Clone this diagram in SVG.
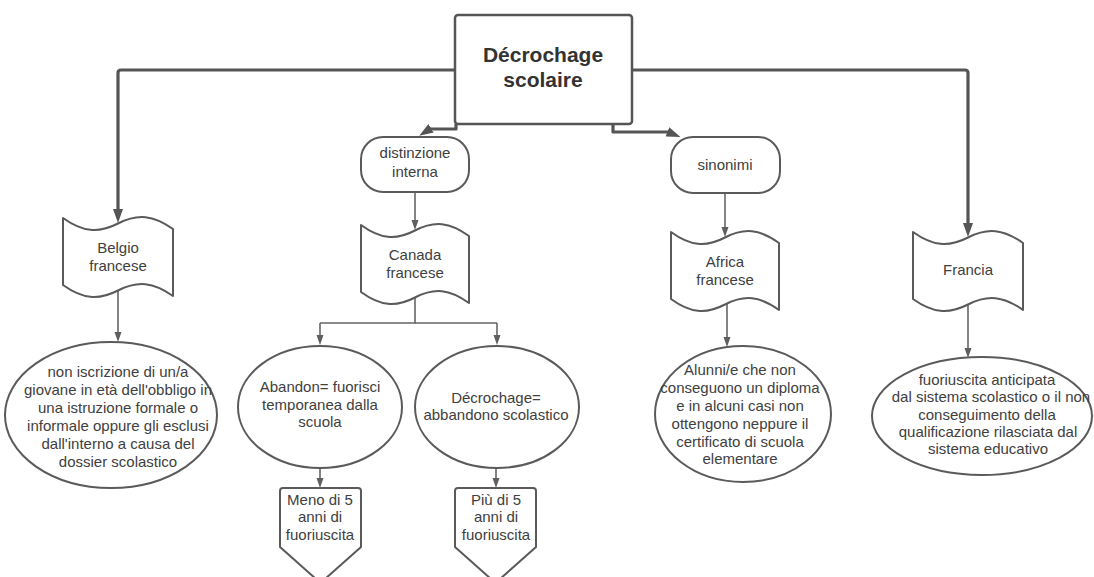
<svg xmlns="http://www.w3.org/2000/svg" width="1094" height="577" viewBox="0 0 1094 577">
  <style>
    .shape { fill: #ffffff; stroke: #5a5a5a; stroke-width: 2; stroke-linejoin: round; }
    .root { fill: #ffffff; stroke: #555555; stroke-width: 2.5; }
    .main { fill: none; stroke: #555555; stroke-width: 3.2; stroke-linejoin: round; marker-end: url(#arrBig); }
    .thin { fill: none; stroke: #666666; stroke-width: 1.6; marker-end: url(#arrSmall); }
    .split { fill: none; stroke: #666666; stroke-width: 1.6; }
    text { font-family: "Liberation Sans", Arial, sans-serif; font-size: 15px; fill: #404040; text-anchor: middle; }
    .title { font-size: 21px; font-weight: bold; fill: #333333; }
  </style>
  <defs>
    <marker id="arrBig" markerUnits="userSpaceOnUse" markerWidth="14" markerHeight="10" refX="6" refY="5" orient="auto">
      <path d="M0,0 L14,5 L0,10 z" fill="#555555"/>
    </marker>
    <marker id="arrSmall" markerUnits="userSpaceOnUse" markerWidth="10" markerHeight="8" refX="5" refY="4" orient="auto">
      <path d="M0,0.5 L10,4 L0,7.5 z" fill="#5f5f5f"/>
    </marker>
  </defs>

  <rect width="1094" height="577" fill="#ffffff"/>

  <!-- connectors -->
  <g id="connectors">
    <path class="main" d="M456,70 H121 Q118,70 118,73 V215"/>
    <path class="main" d="M631,70 H965 Q968,70 968,73 V229"/>
    <path class="main" d="M456,124 V129 H430 L426,131.5"/>
    <path class="main" d="M613,124 V132 H668 L673,134"/>
    <path class="thin" d="M415,192 V225"/>
    <path class="thin" d="M725,193 V232"/>
    <path class="thin" d="M118,290 V337"/>
    <path class="split" d="M415,297 V323 H320"/>
    <path class="split" d="M415,323 H497"/>
    <path class="thin" d="M320,323 V340"/>
    <path class="thin" d="M497,323 V340"/>
    <path class="thin" d="M727,304 V342"/>
    <path class="thin" d="M968,304 V353"/>
    <path class="thin" d="M320,468 V483"/>
    <path class="thin" d="M496,468 V483"/>
  </g>

  <!-- root -->
  <g id="root">
    <rect class="root" x="455" y="15" width="177" height="109" rx="3"/>
    <text class="title" x="543" y="62">Décrochage</text>
    <text class="title" x="543" y="87">scolaire</text>
  </g>

  <!-- second level terminators -->
  <g id="distinzione">
    <rect class="shape" x="361" y="137" width="108" height="55" rx="22"/>
    <text x="415" y="158">distinzione</text>
    <text x="415" y="177">interna</text>
  </g>
  <g id="sinonimi">
    <rect class="shape" x="671" y="137" width="109" height="56" rx="22"/>
    <text x="725" y="170">sinonimi</text>
  </g>

  <!-- wavy tape nodes -->
  <g id="belgio">
    <path class="shape" d="M63,218 c19.8,14.1 35.2,15.6 55,5.5 c19.8,-10.1 35.2,-8.6 55,5.5 v67 c-19.8,-14.1 -35.2,-15.6 -55,-5.5 c-19.8,10.1 -35.2,8.6 -55,-5.5 z"/>
    <text x="118" y="253">Belgio</text>
    <text x="118" y="271">francese</text>
  </g>
  <g id="canada">
    <path class="shape" d="M361,225 c19.4,14.1 34.6,15.6 54,5.5 c19.4,-10.1 34.6,-8.6 54,5.5 v67 c-19.4,-14.1 -34.6,-15.6 -54,-5.5 c-19.4,10.1 -34.6,8.6 -54,-5.5 z"/>
    <text x="415" y="260">Canada</text>
    <text x="415" y="278">francese</text>
  </g>
  <g id="africa">
    <path class="shape" d="M671,232 c19.4,14.1 34.6,15.6 54,5.5 c19.4,-10.1 34.6,-8.6 54,5.5 v67 c-19.4,-14.1 -34.6,-15.6 -54,-5.5 c-19.4,10.1 -34.6,8.6 -54,-5.5 z"/>
    <text x="725" y="267">Africa</text>
    <text x="725" y="285">francese</text>
  </g>
  <g id="francia">
    <path class="shape" d="M913,232 c19.8,14.1 35.2,15.6 55,5.5 c19.8,-10.1 35.2,-8.6 55,5.5 v67 c-19.8,-14.1 -35.2,-15.6 -55,-5.5 c-19.8,10.1 -35.2,8.6 -55,-5.5 z"/>
    <text x="968" y="275">Francia</text>
  </g>

  <!-- definition ellipses -->
  <g id="def-belgio">
    <ellipse class="shape" cx="111" cy="415" rx="106" ry="73"/>
    <text x="118" y="377">non iscrizione di un/a</text>
    <text x="118" y="395">giovane in età dell'obbligo in</text>
    <text x="118" y="413">una istruzione formale o</text>
    <text x="118" y="431">informale oppure gli esclusi</text>
    <text x="118" y="449">dall'interno a causa del</text>
    <text x="118" y="467">dossier scolastico</text>
  </g>
  <g id="abandon">
    <ellipse class="shape" cx="320" cy="407" rx="82" ry="61"/>
    <text x="320" y="392">Abandon= fuorisci</text>
    <text x="320" y="410">temporanea dalla</text>
    <text x="320" y="427">scuola</text>
  </g>
  <g id="decrochage">
    <ellipse class="shape" cx="497" cy="407" rx="82" ry="61"/>
    <text x="496" y="403">Décrochage=</text>
    <text x="496" y="420">abbandono scolastico</text>
  </g>
  <g id="def-africa">
    <ellipse class="shape" cx="743" cy="414" rx="88" ry="68"/>
    <text x="740" y="375">Alunni/e che non</text>
    <text x="740" y="393">conseguono un diploma</text>
    <text x="740" y="411">e in alcuni casi non</text>
    <text x="740" y="429">ottengono neppure il</text>
    <text x="740" y="447">certificato di scuola</text>
    <text x="740" y="464">elementare</text>
  </g>
  <g id="def-francia">
    <ellipse class="shape" cx="982" cy="416" rx="110" ry="59"/>
    <text x="987" y="385">fuoriuscita anticipata</text>
    <text x="991" y="402">dal sistema scolastico o il non</text>
    <text x="987" y="420">conseguimento della</text>
    <text x="988" y="437">qualificazione rilasciata dal</text>
    <text x="988" y="454">sistema educativo</text>
  </g>

  <!-- off-page connectors -->
  <g id="meno">
    <path class="shape" d="M283,488 H358 Q361,488 361,491 V547 L320.5,583 L280,547 V491 Q280,488 283,488 z"/>
    <text x="320" y="505">Meno di 5</text>
    <text x="320" y="522">anni di</text>
    <text x="320" y="540">fuoriuscita</text>
  </g>
  <g id="piu">
    <path class="shape" d="M458,488 H533 Q536,488 536,491 V547 L495.5,583 L455,547 V491 Q455,488 458,488 z"/>
    <text x="496" y="505">Più di 5</text>
    <text x="496" y="522">anni di</text>
    <text x="496" y="540">fuoriuscita</text>
  </g>
</svg>
